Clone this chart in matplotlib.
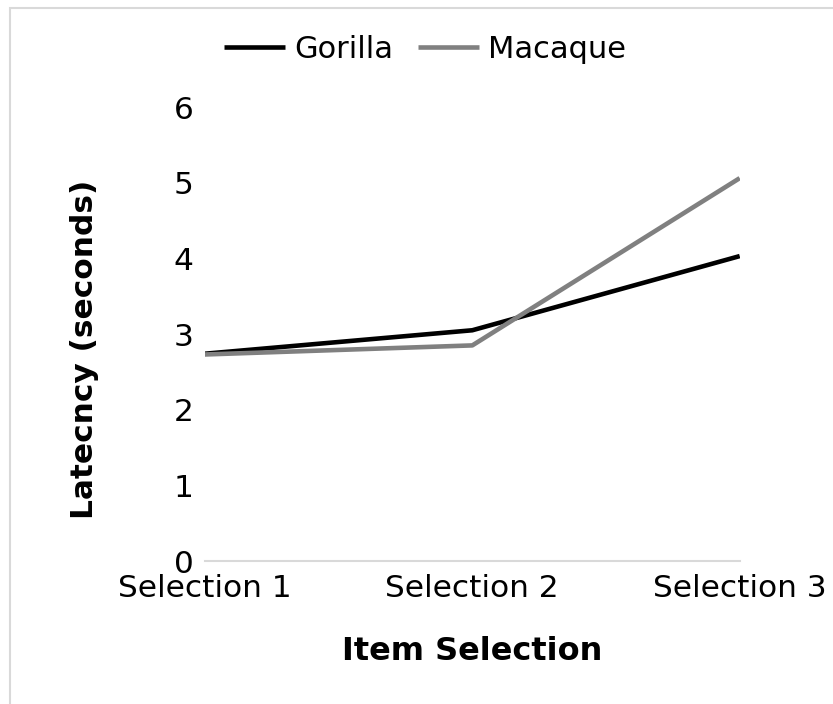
import matplotlib.pyplot as plt
from matplotlib.patches import Rectangle

# data
categories = ['Selection 1', 'Selection 2', 'Selection 3']
gorilla = [2.74, 3.05, 4.03]
macaque = [2.73, 2.85, 5.06]
y_ticks = [0, 1, 2, 3, 4, 5, 6]

plt.rcParams['font.family'] = ['DejaVu Sans']

fig = plt.figure(figsize=(8.33, 7.04), dpi=100)
ax = fig.add_axes([0.246, 0.203, 0.642, 0.645])

x = list(range(len(categories)))
ax.plot(x, gorilla, color='black', lw=3.3, label='Gorilla', solid_capstyle='butt')
ax.plot(x, macaque, color='#808080', lw=3.3, label='Macaque', solid_capstyle='butt')

ax.set_xlim(0, len(categories) - 1)
ax.set_ylim(0, 6)
ax.set_xticks(x)
ax.set_xticklabels(categories)
ax.set_yticks(y_ticks)
ax.tick_params(axis='both', length=0, labelsize=22.5)
ax.tick_params(axis='x', pad=9)
ax.tick_params(axis='y', pad=8)

for side in ['top', 'right', 'left']:
    ax.spines[side].set_visible(False)
ax.spines['bottom'].set_color('#d9d9d9')
ax.spines['bottom'].set_linewidth(1.5)

ax.set_xlabel('Item Selection', fontsize=23, fontweight='bold', labelpad=24)
ax.set_ylabel('Latecncy (seconds)', fontsize=22.5, fontweight='bold')
# the label sits a bit below the middle of the plot area in the original
ax.yaxis.set_label_coords(-0.198, 0.467)

fig.legend(loc='center', bbox_to_anchor=(0.51, 0.93), ncol=2, frameon=False,
           fontsize=22, handlelength=2.0, handletextpad=0.3, columnspacing=0.8)

# chart border (only left/top edges visible in the crop)
fig.patches.append(Rectangle((10 / 833, -0.1), 1.2, 1 - 8 / 704 + 0.1,
                             transform=fig.transFigure, fill=False,
                             edgecolor='#d9d9d9', lw=1.5))

fig.savefig('out.png', dpi=100)
